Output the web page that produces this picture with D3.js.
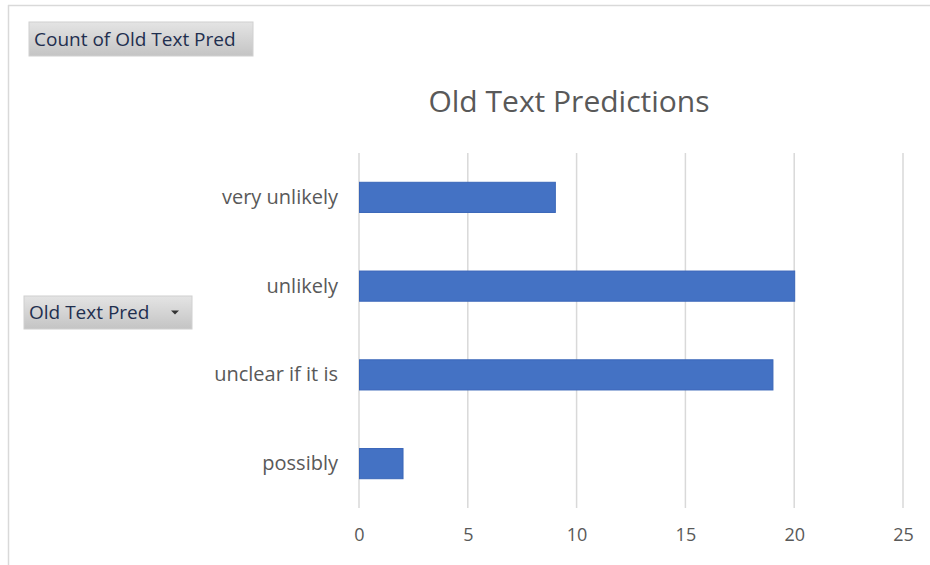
<!DOCTYPE html>
<html>
<head>
<meta charset="utf-8">
<script src="https://cdn.jsdelivr.net/npm/d3@7"></script>
<style>
  html, body { margin: 0; padding: 0; background: #fff; }
  svg { display: block; }
</style>
</head>
<body>
<svg id="chart" width="930" height="565"></svg>
<script>
const categories = ["very unlikely", "unlikely", "unclear if it is", "possibly"];
const counts = [9, 20, 19, 2];
const xTicks = [0, 5, 10, 15, 20, 25];
const title = "Old Text Predictions";
const valueButton = "Count of Old Text Pred";
const fieldButton = "Old Text Pred";

const svg = d3.select("#chart");
const font = "'Open Sans', 'Liberation Sans', sans-serif";
const textColor = "#595959";

const defs = svg.append("defs");
const grad = defs.append("linearGradient").attr("id", "btn").attr("x1", 0).attr("y1", 0).attr("x2", 0).attr("y2", 1);
grad.append("stop").attr("offset", "0%").attr("stop-color", "#e4e4e4");
grad.append("stop").attr("offset", "100%").attr("stop-color", "#c4c4c4");

// chart frame (top and left border)
svg.append("line").attr("x1", 8).attr("x2", 930).attr("y1", 5.5).attr("y2", 5.5)
  .attr("stroke", "#d9d9d9").attr("stroke-width", 1.5);
svg.append("line").attr("x1", 8.5).attr("x2", 8.5).attr("y1", 5).attr("y2", 565)
  .attr("stroke", "#d9d9d9").attr("stroke-width", 1.5);

const margin = { left: 359, right: 27, top: 153, bottom: 57 };
const width = 930 - margin.left - margin.right;
const height = 565 - margin.top - margin.bottom;

const x = d3.scaleLinear().domain([0, 25]).range([0, width]);
const y = d3.scaleBand().domain(categories).range([0, height]).paddingInner(0.66).paddingOuter(0.33);

const g = svg.append("g").attr("transform", `translate(${margin.left},${margin.top})`);

// gridlines
g.append("g").selectAll("line").data(xTicks).join("line")
  .attr("x1", d => x(d)).attr("x2", d => x(d))
  .attr("y1", 0).attr("y2", height)
  .attr("stroke", "#d9d9d9").attr("stroke-width", 1.5);

// x axis labels
const xAxis = d3.axisBottom(x).tickValues(xTicks).tickSize(0).tickPadding(20);
const xa = g.append("g").attr("transform", `translate(0,${height})`).call(xAxis);
xa.select(".domain").remove();
xa.selectAll("text").attr("font-family", font).attr("font-size", 18).attr("fill", textColor);

// y axis labels
const yAxis = d3.axisLeft(y).tickSize(0).tickPadding(21);
const ya = g.append("g").call(yAxis);
ya.select(".domain").remove();
ya.selectAll("text").attr("font-family", font).attr("font-size", 20).attr("fill", textColor);

// bars
g.append("g").selectAll("rect").data(categories).join("rect")
  .attr("x", x(0) + 0.5)
  .attr("y", d => y(d))
  .attr("width", (d, i) => x(counts[i]) - x(0))
  .attr("height", y.bandwidth())
  .attr("fill", "#4472c4")
  .attr("stroke", "#3a66b8")
  .attr("stroke-width", 1);

// title
svg.append("text").attr("x", 569).attr("y", 112).attr("text-anchor", "middle")
  .attr("font-family", font).attr("font-size", 30).attr("font-weight", 400)
  .attr("fill", textColor).text(title);

// pivot buttons
function button(x0, y0, w, h, label, arrow) {
  const b = svg.append("g");
  b.append("rect").attr("x", x0).attr("y", y0).attr("width", w).attr("height", h)
    .attr("fill", "url(#btn)").attr("stroke", "#d0d0d0");
  b.append("text").attr("x", x0 + 5).attr("y", y0 + h / 2 + 6.5)
    .attr("font-family", font).attr("font-size", 19).attr("fill", "#1f2f4f").text(label);
  if (arrow) {
    const ax = x0 + w - 17, ay = y0 + h / 2;
    b.append("path").attr("d", `M${ax - 4},${ay - 2} L${ax + 4},${ay - 2} L${ax},${ay + 2} Z`).attr("fill", "#333");
  }
}
button(29, 22, 224, 34, valueButton, false);
button(24, 296, 168, 33, fieldButton, true);
</script>
</body>
</html>
